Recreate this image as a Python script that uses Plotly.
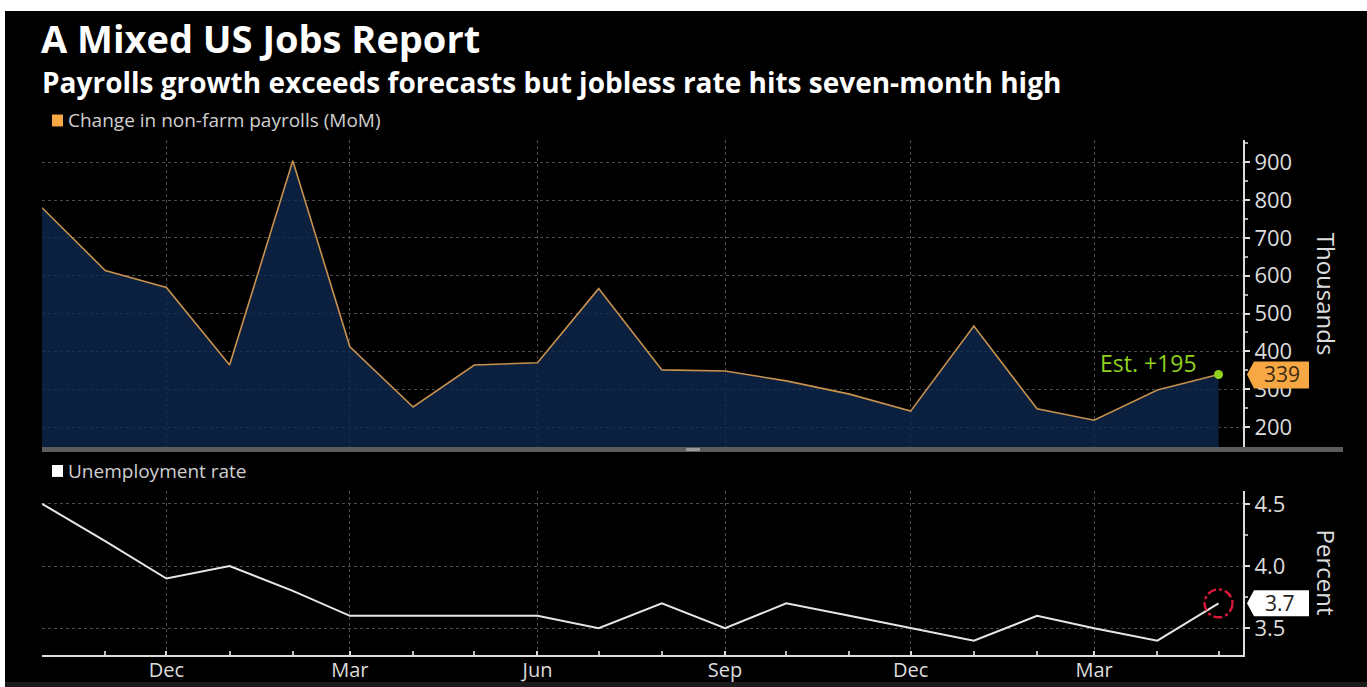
import plotly.graph_objects as go

W, H = 1367, 687

months = ["2021-10-01", "2021-11-01", "2021-12-01", "2022-01-01", "2022-02-01",
          "2022-03-01", "2022-04-01", "2022-05-01", "2022-06-01", "2022-07-01",
          "2022-08-01", "2022-09-01", "2022-10-01", "2022-11-01", "2022-12-01",
          "2023-01-01", "2023-02-01", "2023-03-01", "2023-04-01", "2023-05-01"]
payrolls = [780, 614, 569, 364, 904, 412, 253, 364, 370, 566,
            351, 348, 322, 287, 242, 467, 248, 218, 298, 339]
unemployment = [4.5, 4.2, 3.9, 4.0, 3.8, 3.6, 3.6, 3.6, 3.6, 3.5,
                3.7, 3.5, 3.7, 3.6, 3.5, 3.4, 3.6, 3.5, 3.4, 3.7]
estimate = 195

quarter_ticks = ["2021-12-01", "2022-03-01", "2022-06-01", "2022-09-01",
                 "2022-12-01", "2023-03-01"]
quarter_labels = ["Dec", "Mar", "Jun", "Sep", "Dec", "Mar"]
pay_ticks = [200, 300, 400, 500, 600, 700, 800, 900]
ur_ticks = [3.5, 4.0, 4.5]

FONT = "Open Sans"
ORANGE = "#f7a845"
GREEN = "#8fd11c"


def px(x):
    return x / W


def py(y):
    return 1 - y / H


fig = go.Figure()

fig.add_trace(go.Scatter(
    x=months, y=payrolls, mode="lines", fill="tozeroy",
    fillcolor="rgba(14,40,80,0.78)",
    line=dict(color="#c8924e", width=1.6),
    xaxis="x", yaxis="y", hoverinfo="skip"))
fig.add_trace(go.Scatter(
    x=[months[-1]], y=[payrolls[-1]], mode="markers",
    marker=dict(color=GREEN, size=9),
    xaxis="x", yaxis="y", hoverinfo="skip"))
fig.add_trace(go.Scatter(
    x=months, y=unemployment, mode="lines",
    line=dict(color="#e6e6e6", width=2),
    xaxis="x2", yaxis="y2", hoverinfo="skip"))

xr = ["2021-10-01", "2023-05-13"]
grid = dict(showgrid=True, gridcolor="#4a4a4a", griddash="dot", gridwidth=1)

fig.update_layout(
    width=W, height=H,
    margin=dict(l=0, r=0, t=0, b=0),
    paper_bgcolor="white", plot_bgcolor="rgba(0,0,0,0)",
    showlegend=False,
    font=dict(family=FONT, color="#dcdcdc"),
    xaxis=dict(domain=[px(42), px(1243)], range=xr, anchor="y",
               tickvals=quarter_ticks, showticklabels=False, ticks="",
               showline=False, zeroline=False, **grid),
    yaxis=dict(domain=[py(446), py(138)], range=[147, 958], anchor="x",
               side="right", tickvals=pay_ticks,
               tickfont=dict(size=22, color="#dcdcdc", family=FONT),
               ticks="outside", ticklen=5, tickwidth=2, tickcolor="#dcdcdc",
               minor=dict(tickvals=[250, 350, 450, 550, 650, 750, 850, 950],
                          ticks="outside", ticklen=3, tickcolor="#aaaaaa"),
               showline=True, linecolor="#dcdcdc", linewidth=2,
               zeroline=False, **grid),
    xaxis2=dict(domain=[px(42), px(1243)], range=xr, anchor="y2",
                tickvals=quarter_ticks, ticktext=quarter_labels,
                tickfont=dict(size=20, color="#dcdcdc", family=FONT),
                ticks="inside", ticklen=4, tickwidth=2, tickcolor="#dcdcdc",
                ticklabelstandoff=-4,
                minor=dict(dtick="M1", tick0="2021-10-01", ticks="inside",
                           ticklen=4, tickwidth=2, tickcolor="#bbbbbb"),
                showline=True, linecolor="#dcdcdc", linewidth=2,
                zeroline=False, **grid),
    yaxis2=dict(domain=[py(655), py(490)], range=[3.284, 4.604], anchor="x2",
                side="right", tickvals=ur_ticks, tickformat=".1f",
                tickfont=dict(size=22, color="#dcdcdc", family=FONT),
                ticks="outside", ticklen=5, tickwidth=2, tickcolor="#dcdcdc",
                minor=dict(tickvals=[3.75, 4.25], ticks="outside", ticklen=3,
                           tickcolor="#aaaaaa"),
                showline=True, linecolor="#dcdcdc", linewidth=2,
                zeroline=False, **grid),
)

shapes = [
    # black chart background (white frame at top/left like the screenshot)
    dict(type="rect", xref="paper", yref="paper", x0=px(5), x1=1, y0=py(682), y1=py(8),
         fillcolor="black", line=dict(width=0), layer="below"),
    dict(type="rect", xref="paper", yref="paper", x0=px(5), x1=1, y0=0, y1=py(682),
         fillcolor="#1c1c1c", line=dict(width=0), layer="below"),
    # gray bar under top panel
    dict(type="rect", xref="paper", yref="paper", x0=px(42), x1=px(1343),
         y0=py(451), y1=py(446), fillcolor="#5c5c5c", line=dict(width=0)),
    dict(type="rect", xref="paper", yref="paper", x0=px(686), x1=px(700),
         y0=py(450), y1=py(447), fillcolor="#9a9a9a", line=dict(width=0)),
    # legend squares
    dict(type="rect", xref="paper", yref="paper", x0=px(52), x1=px(63),
         y0=py(124), y1=py(112), fillcolor=ORANGE, line=dict(width=0)),
    dict(type="rect", xref="paper", yref="paper", x0=px(52), x1=px(63),
         y0=py(476), y1=py(464), fillcolor="white", line=dict(width=0)),
    # value label boxes on the right axes
    dict(type="path", xref="paper", yref="y", xsizemode="pixel", ysizemode="pixel",
         xanchor=px(1243), yanchor=payrolls[-1],
         path="M 4 0 L 11 13 L 66 13 L 66 -14 L 11 -14 Z",
         fillcolor=ORANGE, line=dict(width=0)),
    dict(type="path", xref="paper", yref="y2", xsizemode="pixel", ysizemode="pixel",
         xanchor=px(1243), yanchor=unemployment[-1],
         path="M 4 0 L 11 13 L 66 13 L 66 -13 L 11 -13 Z",
         fillcolor="white", line=dict(width=0)),
    # red dashed circle at latest unemployment point
    dict(type="circle", xref="x2", yref="y2", xsizemode="pixel", ysizemode="pixel",
         xanchor=months[-1], yanchor=unemployment[-1],
         x0=-14, x1=14, y0=-14, y1=14,
         line=dict(color="#d8183c", width=2.5, dash="dashdot")),
]
fig.update_layout(shapes=shapes)

ann = [
    dict(text="<b>A Mixed US Jobs Report</b>", x=px(39), y=py(35),
         font=dict(size=38, color="white")),
    dict(text="<b>Payrolls growth exceeds forecasts but jobless rate hits seven-month high</b>",
         x=px(40), y=py(79), font=dict(size=28, color="white")),
    dict(text="Change in non-farm payrolls (MoM)", x=px(66), y=py(118),
         font=dict(size=19, color="#d0d0d0")),
    dict(text="Unemployment rate", x=px(66), y=py(470),
         font=dict(size=19, color="#d0d0d0")),
]
for a in ann:
    a.update(xref="paper", yref="paper", xanchor="left", yanchor="middle", showarrow=False)

ann += [
    dict(text="Thousands", xref="paper", yref="paper", x=px(1326), y=py(292),
         textangle=90, showarrow=False, font=dict(size=24, color="#dcdcdc"),
         xanchor="center", yanchor="middle"),
    dict(text="Percent", xref="paper", yref="paper", x=px(1326), y=py(572),
         textangle=90, showarrow=False, font=dict(size=24, color="#dcdcdc"),
         xanchor="center", yanchor="middle"),
    dict(text=f"Est. +{estimate}", xref="x", yref="y", x=months[-1], y=payrolls[-1],
         xanchor="right", yanchor="middle", xshift=-20, yshift=11, showarrow=False,
         font=dict(size=23, color=GREEN)),
    dict(text=str(payrolls[-1]), xref="paper", yref="y", x=px(1282), y=payrolls[-1],
         xanchor="center", yanchor="middle", showarrow=False,
         font=dict(size=21, color="#3a2a10")),
    dict(text=f"{unemployment[-1]:.1f}", xref="paper", yref="y2", x=px(1280),
         y=unemployment[-1], xanchor="center", yanchor="middle", showarrow=False,
         font=dict(size=21, color="#222222")),
]
fig.update_layout(annotations=ann)

fig.write_html("out.html")
